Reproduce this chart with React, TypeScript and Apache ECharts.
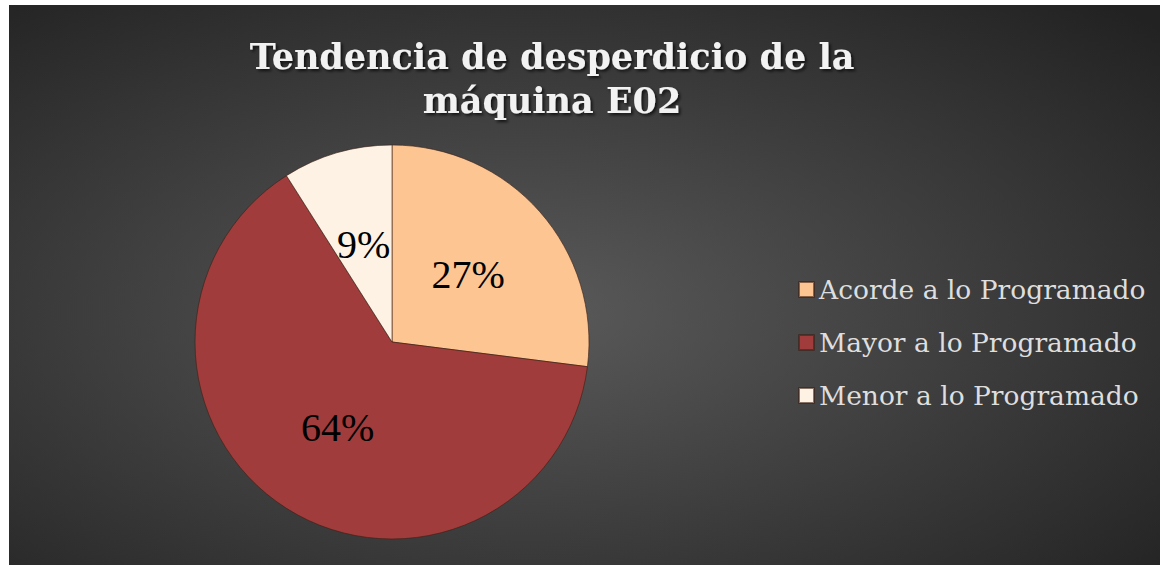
import React, { useEffect, useRef } from "react";
import * as echarts from "echarts";

const titleText = "Tendencia de desperdicio de la\nmáquina E02";
const categories = ["Acorde a lo Programado", "Mayor a lo Programado", "Menor a lo Programado"];
const values = [27, 64, 9];
const colors = ["#fcc592", "#a03c3b", "#fdf2e4"];

export default function App() {
  const ref = useRef<HTMLDivElement>(null);
  useEffect(() => {
    if (!ref.current) return;
    const chart = echarts.init(ref.current, null, { renderer: "svg" });
    chart.setOption({
      animation: false,
      backgroundColor: {
        type: "radial",
        x: 0.45,
        y: 0.55,
        r: 0.75,
        colorStops: [
          { offset: 0, color: "#5a5a5a" },
          { offset: 1, color: "#222222" },
        ],
      },
      title: {
        text: titleText,
        left: 538,
        textAlign: "center",
        top: 24,
        textStyle: {
          fontFamily: "DejaVu Serif",
          fontWeight: "bold",
          fontSize: 35,
          lineHeight: 44,
          color: "#f2f2f2",
          textShadowColor: "rgba(0,0,0,0.7)",
          textShadowBlur: 3,
          textShadowOffsetX: 2,
          textShadowOffsetY: 2,
        },
      },
      legend: {
        orient: "vertical",
        left: 784,
        top: 264,
        itemWidth: 15,
        itemHeight: 15,
        itemGap: 22,
        icon: "rect",
        data: categories,
        textStyle: {
          fontFamily: "DejaVu Serif",
          fontSize: 26.5,
          lineHeight: 31,
          color: "#dedede",
          padding: [0, 0, 0, 0],
        },
      },
      series: [
        {
          type: "pie",
          center: [383, 337],
          radius: [0, 197],
          startAngle: 90,
          clockwise: true,
          data: categories.map((name, i) => ({
            name,
            value: values[i],
            itemStyle: { color: colors[i] },
          })),
          itemStyle: {
            borderColor: "rgba(60,30,20,0.6)",
            borderWidth: 1,
          },
          label: {
            show: true,
            position: "inside",
            formatter: "{d}%",
            fontFamily: "Liberation Serif",
            fontSize: 40,
            color: "#000000",
          },
          labelLine: { show: false },
          emphasis: { disabled: true },
        },
      ],
    });
    return () => chart.dispose();
  }, []);
  return (
    <div
      ref={ref}
      style={{ position: "absolute", left: 9, top: 5, width: 1151, height: 560 }}
    />
  );
}
